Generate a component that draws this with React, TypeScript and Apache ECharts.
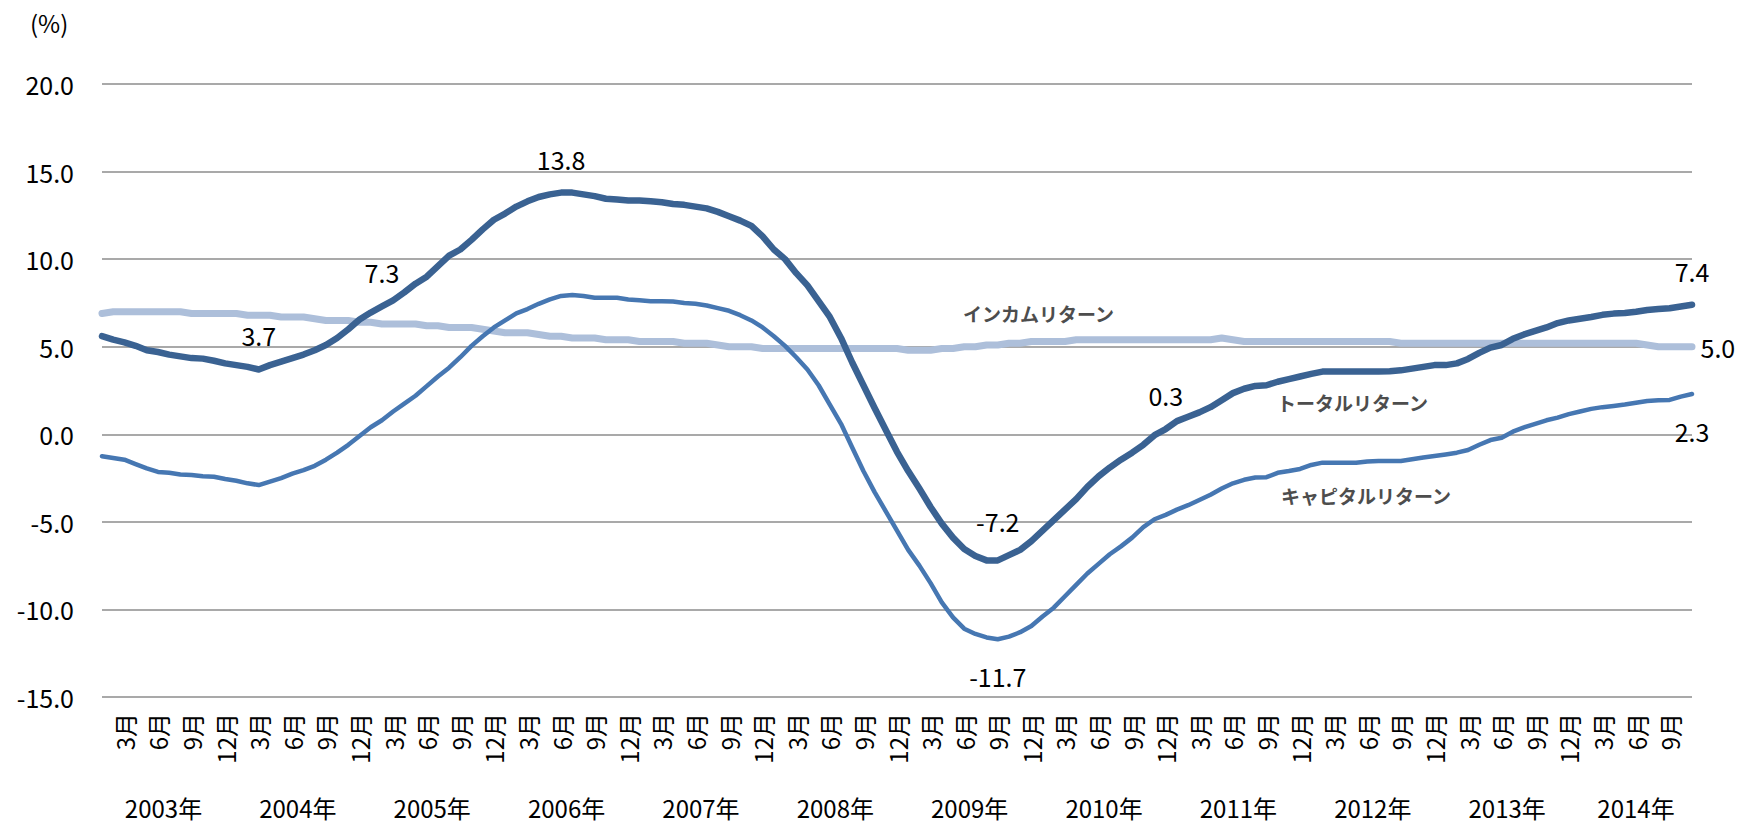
import React, { useEffect, useRef } from "react";
import * as echarts from "echarts";

// ---- data ----
const YEARS = [2003, 2004, 2005, 2006, 2007, 2008, 2009, 2010, 2011, 2012, 2013, 2014];
const LAST_MONTH = 11; // data ends Nov 2014
const TICK_MONTHS = [3, 6, 9, 12];

const categories: string[] = [];
YEARS.forEach((y) => {
  for (let m = 1; m <= 12; m++) {
    if (y === YEARS[YEARS.length - 1] && m > LAST_MONTH) break;
    categories.push(`${y}-${m}`);
  }
});

// トータルリターン (monthly, Jan 2003 - Nov 2014)
const totalReturn = [
  5.6, 5.4, 5.25, 5.05, 4.8, 4.7, 4.55, 4.45, 4.35, 4.32, 4.2, 4.05,
  3.95, 3.85, 3.7, 3.95, 4.15, 4.35, 4.55, 4.8, 5.1, 5.5, 6.0, 6.55,
  6.95, 7.3, 7.65, 8.1, 8.6, 9.0, 9.6, 10.2, 10.55, 11.1, 11.7, 12.25,
  12.6, 13.0, 13.3, 13.55, 13.7, 13.8, 13.8, 13.7, 13.6, 13.45, 13.4, 13.35,
  13.35, 13.3, 13.25, 13.15, 13.1, 13.0, 12.9, 12.7, 12.45, 12.2, 11.9, 11.3,
  10.55, 10.0, 9.2, 8.5, 7.6, 6.7, 5.5, 4.1, 2.8, 1.5, 0.25, -1.0,
  -2.1, -3.1, -4.15, -5.1, -5.9, -6.55, -6.95, -7.2, -7.2, -6.9, -6.6, -6.1,
  -5.5, -4.9, -4.3, -3.7, -3.0, -2.4, -1.9, -1.45, -1.05, -0.6, -0.05, 0.3,
  0.75, 1.0, 1.25, 1.55, 1.95, 2.35, 2.6, 2.76, 2.8, 3.0, 3.15, 3.3,
  3.45, 3.58, 3.58, 3.58, 3.58, 3.58, 3.58, 3.6, 3.65, 3.75, 3.85, 3.95,
  3.95, 4.05, 4.3, 4.65, 4.95, 5.1, 5.45, 5.7, 5.9, 6.1, 6.35, 6.5,
  6.6, 6.7, 6.82, 6.89, 6.92, 7.0, 7.1, 7.15, 7.2, 7.3, 7.4,
];

// キャピタルリターン
const capitalReturn = [
  -1.25, -1.35, -1.45, -1.7, -1.95, -2.15, -2.2, -2.3, -2.32, -2.4, -2.42, -2.55,
  -2.65, -2.8, -2.9, -2.7, -2.5, -2.25, -2.05, -1.8, -1.45, -1.05, -0.6, -0.1,
  0.4, 0.8, 1.3, 1.75, 2.2, 2.75, 3.3, 3.8, 4.4, 5.05, 5.6, 6.1,
  6.5, 6.9, 7.15, 7.45, 7.7, 7.9, 7.95, 7.9, 7.8, 7.8, 7.8, 7.7,
  7.65, 7.6, 7.6, 7.58, 7.5, 7.45, 7.35, 7.2, 7.05, 6.8, 6.5, 6.1,
  5.6, 5.05, 4.4, 3.7, 2.8, 1.7, 0.6, -0.75, -2.1, -3.3, -4.4, -5.5,
  -6.6, -7.5, -8.5, -9.6, -10.45, -11.1, -11.4, -11.6, -11.7, -11.55, -11.3, -10.95,
  -10.4, -9.9, -9.25, -8.6, -7.95, -7.4, -6.85, -6.4, -5.9, -5.3, -4.85, -4.6,
  -4.3, -4.05, -3.75, -3.45, -3.1, -2.8, -2.6, -2.47, -2.45, -2.2, -2.1, -1.98,
  -1.75, -1.62, -1.62, -1.62, -1.62, -1.55, -1.52, -1.52, -1.52, -1.42, -1.32, -1.24,
  -1.15, -1.05, -0.9, -0.6, -0.33, -0.2, 0.15, 0.4, 0.6, 0.8, 0.95, 1.15,
  1.3, 1.45, 1.55, 1.62, 1.7, 1.8, 1.9, 1.94, 1.96, 2.15, 2.3,
];

// インカムリターン
const incomeReturn = [
  6.9, 7.0, 7.0, 7.0, 7.0, 7.0, 7.0, 7.0, 6.9, 6.9, 6.9, 6.9,
  6.9, 6.8, 6.8, 6.8, 6.7, 6.7, 6.7, 6.6, 6.5, 6.5, 6.5, 6.4,
  6.4, 6.3, 6.3, 6.3, 6.3, 6.2, 6.2, 6.1, 6.1, 6.1, 6.0, 5.9,
  5.8, 5.8, 5.8, 5.7, 5.6, 5.6, 5.5, 5.5, 5.5, 5.4, 5.4, 5.4,
  5.3, 5.3, 5.3, 5.3, 5.2, 5.2, 5.2, 5.1, 5.0, 5.0, 5.0, 4.9,
  4.9, 4.9, 4.9, 4.9, 4.9, 4.9, 4.9, 4.9, 4.9, 4.9, 4.9, 4.9,
  4.8, 4.8, 4.8, 4.9, 4.9, 5.0, 5.0, 5.1, 5.1, 5.2, 5.2, 5.3,
  5.3, 5.3, 5.3, 5.4, 5.4, 5.4, 5.4, 5.4, 5.4, 5.4, 5.4, 5.4,
  5.4, 5.4, 5.4, 5.4, 5.5, 5.4, 5.3, 5.3, 5.3, 5.3, 5.3, 5.3,
  5.3, 5.3, 5.3, 5.3, 5.3, 5.3, 5.3, 5.3, 5.2, 5.2, 5.2, 5.2,
  5.2, 5.2, 5.2, 5.2, 5.2, 5.2, 5.2, 5.2, 5.2, 5.2, 5.2, 5.2,
  5.2, 5.2, 5.2, 5.2, 5.2, 5.2, 5.1, 5.0, 5.0, 5.0, 5.0,
];

const Y_MIN = -15;
const Y_MAX = 20;
const Y_STEP = 5;

const SERIES_NAMES = ["インカムリターン", "キャピタルリターン", "トータルリターン"];

// labelled points (category index)
const TOTAL_LABEL_IDX = [14, 25, 41, 80, 95, 142];
const CAPITAL_LABEL_IDX = [80, 142];
const INCOME_LABEL_IDX = [142];

const FONT = "'Noto Sans CJK JP', 'Noto Sans', sans-serif";

function withLabels(
  values: number[],
  idx: number[],
  labelFor: (i: number) => any
) {
  return values.map((v, i) =>
    idx.includes(i)
      ? {
          value: v,
          symbol: "circle",
          symbolSize: 1,
          label: {
            show: true,
            formatter: (p: any) => Number(p.value).toFixed(1),
            fontSize: 25,
            fontFamily: FONT,
            color: "#000",
            ...labelFor(i),
          },
        }
      : v
  );
}

export default function App() {
  const ref = useRef<HTMLDivElement>(null);

  useEffect(() => {
    document.body.style.margin = "0";
    if (!ref.current) return;
    const chart = echarts.init(ref.current, null, { renderer: "svg" });

    const lastIdx = categories.length - 1;
    const yearCenterIdx: Record<number, number> = {};
    YEARS.forEach((y, k) => {
      const first = k * 12;
      const last = Math.min(first + 11, lastIdx);
      yearCenterIdx[Math.floor((first + last) / 2)] = y;
    });

    const option: any = {
      animation: false,
      backgroundColor: "#fff",
      grid: { left: 102, right: 48, top: 84, bottom: 126, containLabel: false },
      xAxis: [
        {
          type: "category",
          data: categories,
          boundaryGap: false,
          axisLine: { show: false },
          axisTick: { show: false },
          splitLine: { show: false },
          axisLabel: {
            interval: (i: number, v: string) =>
              TICK_MONTHS.includes(Number(v.split("-")[1])),
            formatter: (v: string) => `${Number(v.split("-")[1])}月`,
            rotate: 90,
            margin: 16,
            fontSize: 24,
            fontFamily: FONT,
            color: "#000",
          },
        },
        {
          type: "category",
          data: categories,
          boundaryGap: false,
          position: "bottom",
          offset: 90,
          axisLine: { show: false },
          axisTick: { show: false },
          splitLine: { show: false },
          axisLabel: {
            interval: (i: number) => yearCenterIdx[i] !== undefined,
            formatter: (v: string, i: number) => {
              const y = Number(v.split("-")[0]);
              const full = y !== YEARS[YEARS.length - 1];
              return full ? `{f|${y}年}` : `{p|${y}年}`;
            },
            margin: 8,
            rich: {
              f: { fontSize: 24, fontFamily: FONT, color: "#000", padding: [0, 0, 0, 11] },
              p: { fontSize: 24, fontFamily: FONT, color: "#000" },
            },
          },
        },
      ],
      yAxis: {
        type: "value",
        min: Y_MIN,
        max: Y_MAX,
        interval: Y_STEP,
        axisLine: { show: false },
        axisTick: { show: false },
        axisLabel: {
          formatter: (v: number) => v.toFixed(1),
          fontSize: 25,
          fontFamily: FONT,
          color: "#000",
          margin: 28,
        },
        splitLine: { lineStyle: { color: "#8c8c8c", width: 1.6 } },
      },
      series: [
        {
          name: SERIES_NAMES[0],
          type: "line",
          symbol: "none",
          showAllSymbol: true,
          data: withLabels(incomeReturn, INCOME_LABEL_IDX, () => ({
            position: "right",
            distance: 8,
          })),
          lineStyle: { color: "#adbfda", width: 7, cap: "round", join: "round" },
          itemStyle: { color: "#adbfda" },
          z: 2,
        },
        {
          name: SERIES_NAMES[1],
          type: "line",
          symbol: "none",
          showAllSymbol: true,
          data: withLabels(capitalReturn, CAPITAL_LABEL_IDX, () => ({
            position: "bottom",
            distance: 24,
          })),
          lineStyle: { color: "#4677b2", width: 4.5, cap: "round", join: "round" },
          itemStyle: { color: "#4677b2" },
          z: 3,
        },
        {
          name: SERIES_NAMES[2],
          type: "line",
          symbol: "none",
          showAllSymbol: true,
          data: withLabels(totalReturn, TOTAL_LABEL_IDX, (i) => ({
            position: "top",
            distance: i === 80 ? 26 : 21,
          })),
          lineStyle: { color: "#3a6292", width: 6.5, cap: "round", join: "round" },
          itemStyle: { color: "#3a6292" },
          z: 4,
        },
      ],
      graphic: [
        {
          type: "text",
          left: 30,
          top: 10,
          style: { text: "(%)", fontSize: 24, fontFamily: FONT, fill: "#000" },
        },
        {
          type: "text",
          left: 963,
          top: 304,
          style: {
            text: SERIES_NAMES[0],
            fontSize: 19,
            fontWeight: "bold",
            fontFamily: FONT,
            fill: "#4d4d4d",
          },
        },
        {
          type: "text",
          left: 1277,
          top: 393,
          style: {
            text: SERIES_NAMES[2],
            fontSize: 19,
            fontWeight: "bold",
            fontFamily: FONT,
            fill: "#4d4d4d",
          },
        },
        {
          type: "text",
          left: 1281,
          top: 486,
          style: {
            text: SERIES_NAMES[1],
            fontSize: 19,
            fontWeight: "bold",
            fontFamily: FONT,
            fill: "#4d4d4d",
          },
        },
      ],
    };

    chart.setOption(option);
    return () => chart.dispose();
  }, []);

  return (
    <div
      ref={ref}
      style={{ position: "absolute", left: 0, top: 0, width: 1740, height: 823 }}
    />
  );
}
